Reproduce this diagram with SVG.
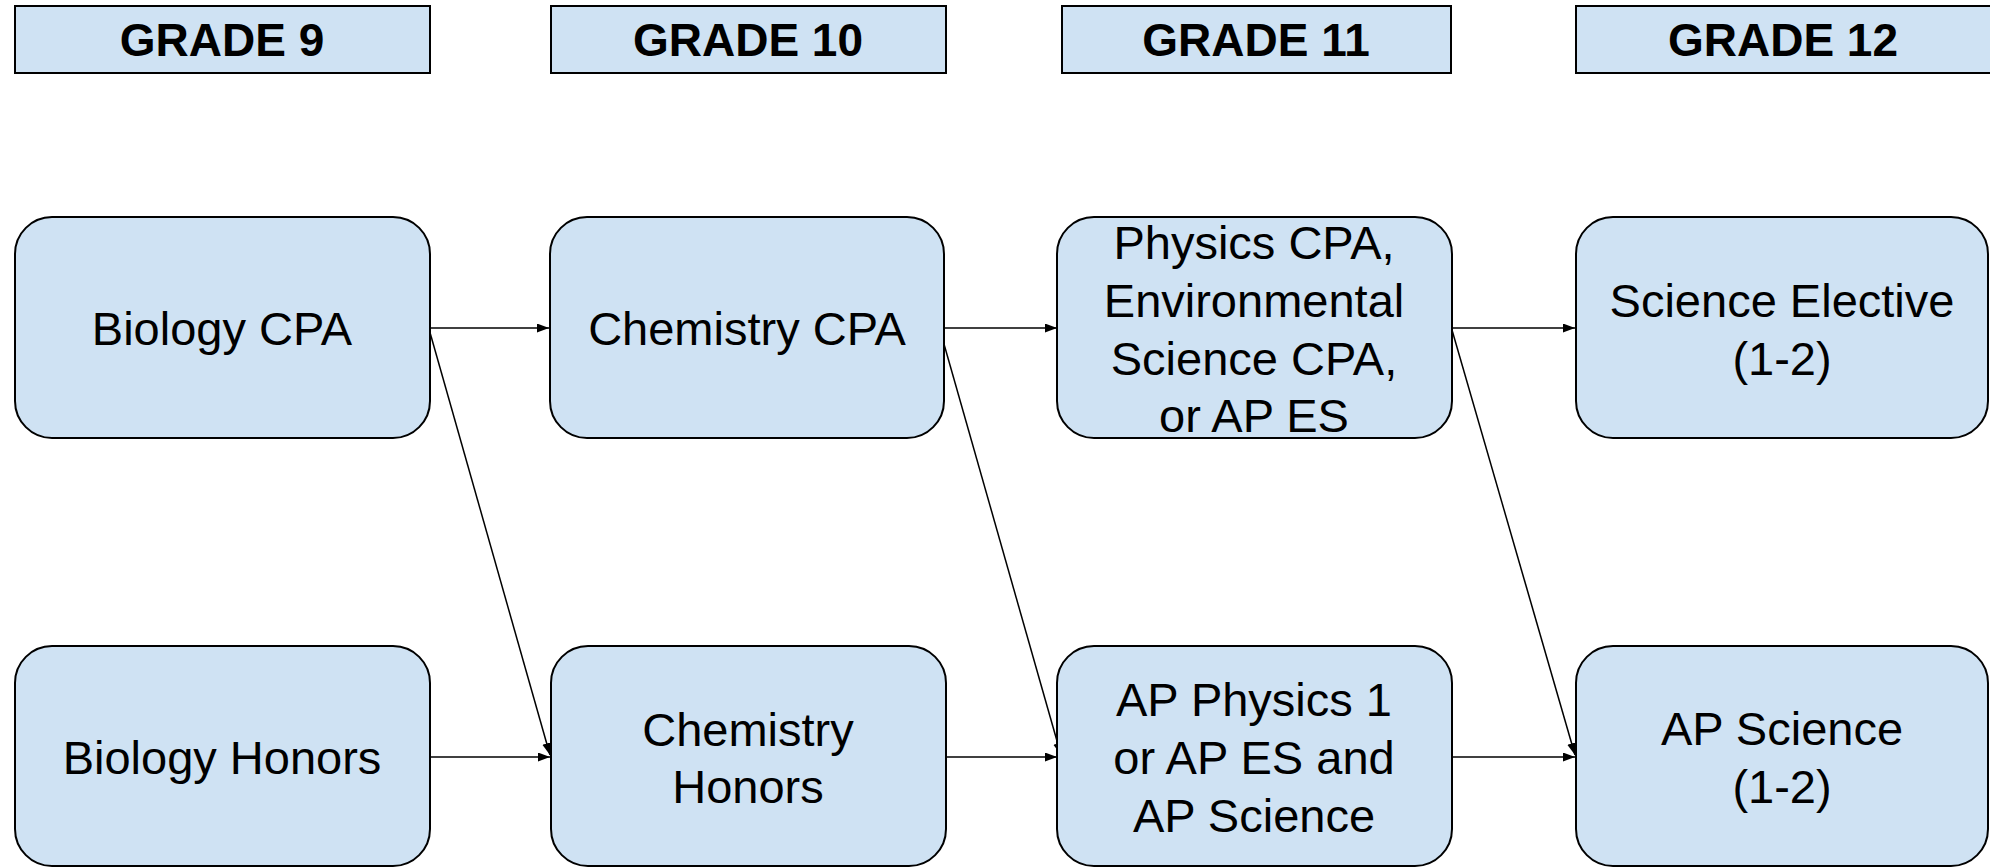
<svg xmlns="http://www.w3.org/2000/svg" width="1990" height="867" viewBox="0 0 1990 867">
<style>
.hdr{fill:#cfe2f3;stroke:#000;stroke-width:2}
.box{fill:#cfe2f3;stroke:#000;stroke-width:2}
.ht{font-family:"Liberation Sans",Arial,sans-serif;font-weight:bold;font-size:46px;fill:#000;text-anchor:middle}
.bt{font-family:"Liberation Sans",Arial,sans-serif;font-size:47px;fill:#000;text-anchor:middle}
.con{stroke:#000;stroke-width:1.5;fill:none;marker-end:url(#ah)}
</style>
<defs>
<marker id="ah" markerUnits="userSpaceOnUse" markerWidth="13" markerHeight="10" refX="12" refY="4.5" orient="auto">
<path d="M0,0 L12,4.5 L0,9 z" fill="#000"/>
</marker>
</defs>
<rect width="1990" height="867" fill="#fff"/>
<g id="header-grade9"><rect class="hdr" x="15" y="6" width="415" height="67"/><text class="ht" x="222" y="56">GRADE 9</text></g>
<g id="header-grade10"><rect class="hdr" x="551" y="6" width="395" height="67"/><text class="ht" x="748" y="56">GRADE 10</text></g>
<g id="header-grade11"><rect class="hdr" x="1062" y="6" width="389" height="67"/><text class="ht" x="1256" y="56">GRADE 11</text></g>
<g id="header-grade12"><rect class="hdr" x="1576" y="6" width="420" height="67"/><text class="ht" x="1783" y="56">GRADE 12</text></g>

<g id="connectors">
<line class="con" x1="429" y1="328" x2="549" y2="328"/>
<line class="con" x1="429" y1="329" x2="550" y2="755"/>
<line class="con" x1="430" y1="757" x2="550" y2="757"/>
<line class="con" x1="945" y1="328" x2="1057" y2="328"/>
<line class="con" x1="940" y1="330" x2="1061" y2="755"/>
<line class="con" x1="946" y1="757" x2="1057" y2="757"/>
<line class="con" x1="1452" y1="328" x2="1575" y2="328"/>
<line class="con" x1="1452" y1="330" x2="1575" y2="755"/>
<line class="con" x1="1452" y1="757" x2="1575" y2="757"/>
</g>

<g id="biology-cpa"><rect class="box" x="15" y="217" width="415" height="221" rx="37"/><text class="bt" x="222" y="345">Biology CPA</text></g>
<g id="chemistry-cpa"><rect class="box" x="550" y="217" width="394" height="221" rx="37"/><text class="bt" x="747" y="345">Chemistry CPA</text></g>
<g id="physics-cpa"><rect class="box" x="1057" y="217" width="395" height="221" rx="37"/><text class="bt" x="1254" y="259">Physics CPA,</text><text class="bt" x="1254" y="317">Environmental</text><text class="bt" x="1254" y="375">Science CPA,</text><text class="bt" x="1254" y="432">or AP ES</text></g>
<g id="science-elective"><rect class="box" x="1576" y="217" width="412" height="221" rx="37"/><text class="bt" x="1782" y="317">Science Elective</text><text class="bt" x="1782" y="375">(1-2)</text></g>

<g id="biology-honors"><rect class="box" x="15" y="646" width="415" height="220" rx="37"/><text class="bt" x="222" y="774">Biology Honors</text></g>
<g id="chemistry-honors"><rect class="box" x="551" y="646" width="395" height="220" rx="37"/><text class="bt" x="748" y="746">Chemistry</text><text class="bt" x="748" y="803">Honors</text></g>
<g id="ap-physics"><rect class="box" x="1057" y="646" width="395" height="220" rx="37"/><text class="bt" x="1254" y="716">AP Physics 1</text><text class="bt" x="1254" y="774">or AP ES and</text><text class="bt" x="1254" y="832">AP Science</text></g>
<g id="ap-science"><rect class="box" x="1576" y="646" width="412" height="220" rx="37"/><text class="bt" x="1782" y="745">AP Science</text><text class="bt" x="1782" y="803">(1-2)</text></g>
</svg>
